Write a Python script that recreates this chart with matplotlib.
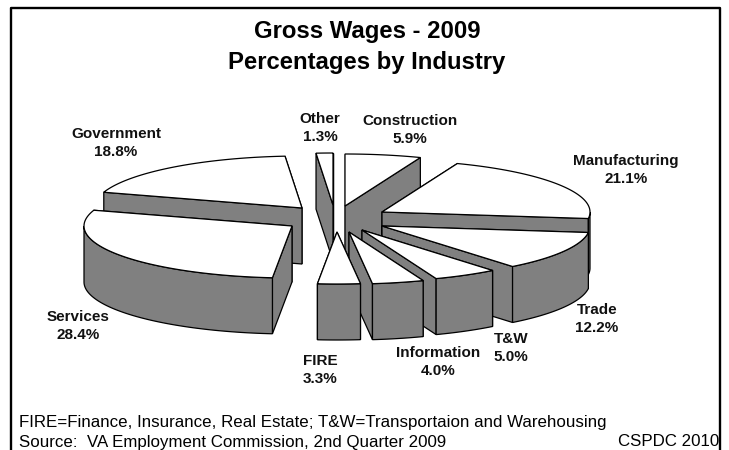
import matplotlib
matplotlib.use("Agg")
import matplotlib.pyplot as plt
import numpy as np

plt.rcParams['font.family'] = ['Liberation Sans', 'DejaVu Sans']

industries = ["Construction", "Manufacturing", "Trade", "T&W", "Information", "FIRE", "Services", "Government", "Other"]
shares = [5.9, 21.1, 12.2, 5.0, 4.0, 3.3, 28.4, 18.8, 1.3]

# layout, in pixels of the 729x450 picture
apex_x = [345, 382, 382, 362, 349, 337, 292, 302, 333]
apex_y = [206, 212, 226, 230, 232, 232, 226, 208, 205]
label_x = [410, 626, 597, 511, 438, 320, 78, 116, 320]
label_y = [130, 170, 319, 348, 362, 370, 326, 143, 128]
draw_order = [8, 0, 7, 1, 6, 2, 3, 4, 5]
rx, ry, depth = 208, 52, 56

fig = plt.figure(figsize=(7.29, 4.5), dpi=100)
ax = fig.add_axes([0, 0, 1, 1])
ax.set_xlim(0, 729)
ax.set_ylim(450, 0)
ax.axis("off")

# clockwise from 12 o'clock
edges = np.concatenate([[0], np.cumsum(shares)]) / sum(shares) * 2 * np.pi


def rim(i, t):
    return apex_x[i] + rx * np.sin(t), apex_y[i] - ry * np.cos(t)


def poly(xs, ys, color):
    ax.fill(xs, ys, facecolor=color, edgecolor="black", lw=0.9, joinstyle="miter")


for i in draw_order:
    a, b = edges[i], edges[i + 1]
    ends = sorted([a, b], key=lambda t: rim(i, t)[1])
    for t in ends:
        x, y = rim(i, t)
        poly([apex_x[i], x, x, apex_x[i]], [apex_y[i], y, y + depth, apex_y[i] + depth], "#808080")
    lo, hi = max(a, np.pi / 2), min(b, 3 * np.pi / 2)
    if hi > lo:
        x, y = rim(i, np.linspace(lo, hi, 60))
        poly(np.r_[x, x[::-1]], np.r_[y, y[::-1] + depth], "#808080")
    x, y = rim(i, np.linspace(a, b, 80))
    poly(np.r_[apex_x[i], x], np.r_[apex_y[i], y], "white")

for i, name in enumerate(industries):
    ax.text(label_x[i], label_y[i], f"{name}\n{shares[i]:.1f}%", ha="center", va="center",
            fontsize=11, fontweight="bold", color="#111111", linespacing=1.3)

ax.text(367, 47, "Gross Wages - 2009\nPercentages by Industry", ha="center", va="center",
        fontsize=17.2, fontweight="bold", color="black", linespacing=1.4)
ax.text(19, 422, "FIRE=Finance, Insurance, Real Estate; T&W=Transportaion and Warehousing", ha="left", va="center", fontsize=12.2)
ax.text(19, 442, "Source:  VA Employment Commission, 2nd Quarter 2009", ha="left", va="center", fontsize=12.2)
ax.text(719, 441, "CSPDC 2010", ha="right", va="center", fontsize=12.2)

# frame round the chart, open at the foot
ax.plot([11, 11, 720, 720], [450, 8, 8, 450], color="black", lw=1.7)

fig.savefig("out.png", dpi=100)
